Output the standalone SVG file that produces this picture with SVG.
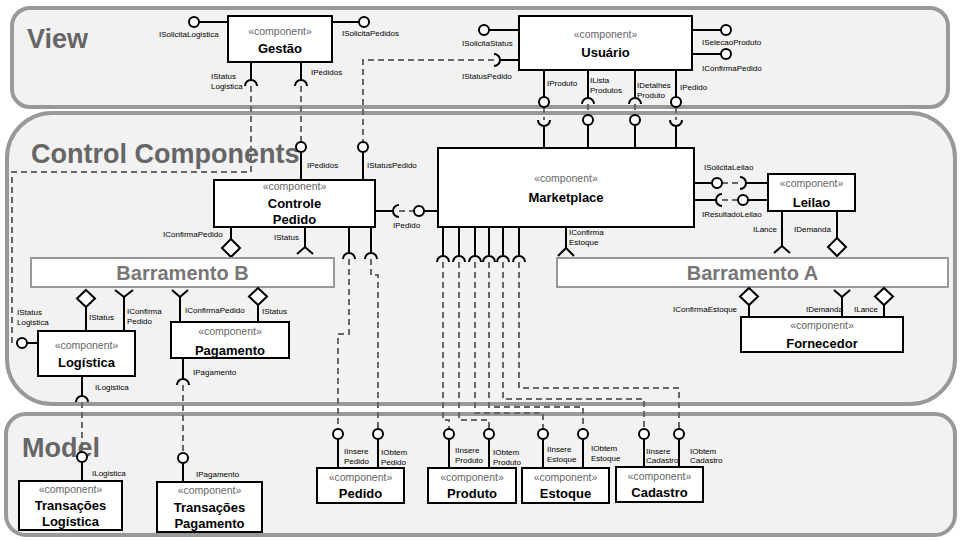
<svg xmlns="http://www.w3.org/2000/svg" width="960" height="540" viewBox="0 0 960 540">
<style>
text{font-family:"Liberation Sans",Arial,sans-serif}
.layer{fill:#f2f2f2;stroke:#999;stroke-width:4}
.title{font-size:27px;font-weight:bold;fill:#666}
.box{fill:#fff;stroke:#000;stroke-width:2}
.st{font-size:10.5px;fill:#666;text-anchor:middle}
.nm{font-size:13px;font-weight:bold;fill:#000;text-anchor:middle}
.lbl{font-size:8px;fill:#000}
.ln{stroke:#000;stroke-width:2;fill:none}
.ball{fill:#fff;stroke:#000;stroke-width:2}
.dia{fill:#fff;stroke:#000;stroke-width:2}
.dash{stroke:#666;stroke-width:2;stroke-dasharray:6 4;fill:none}
.bus{fill:#fff;stroke:#999;stroke-width:2}
.busT{font-size:20px;font-weight:bold;fill:#777;text-anchor:middle}
</style>
<rect width="960" height="540" fill="#fff"/>
<g id="layers">
<rect class="layer" x="12" y="8" width="936" height="99" rx="18"/>
<rect class="layer" x="7" y="113" width="948" height="291" rx="45"/>
<rect class="layer" x="6" y="414" width="949" height="121" rx="20"/>
<text class="title" x="27" y="48">View</text>
<text class="title" x="31" y="163">Control Components</text>
<text class="title" x="22" y="457">Model</text>
</g>
<g id="connectors">
<path class="dash" d="M251 86V172H12V343H17"/>
<path class="dash" d="M301 86V142"/>
<path class="dash" d="M494 60H363V142"/>
<path class="dash" d="M544 107V120"/>
<path class="dash" d="M588 104V115"/>
<path class="dash" d="M635 104V115"/>
<path class="dash" d="M676 107V120"/>
<path class="dash" d="M399 211H414"/>
<path class="dash" d="M722 183H740"/>
<path class="dash" d="M722 200H738"/>
<path class="dash" d="M349 259V334H338V429"/>
<path class="dash" d="M371 259V275H378V429"/>
<path class="dash" d="M443 262V420H449V429"/>
<path class="dash" d="M459 262V420H489V429"/>
<path class="dash" d="M475 262V413H543V429"/>
<path class="dash" d="M489 262V407H583V429"/>
<path class="dash" d="M503 262V399H644V429"/>
<path class="dash" d="M519 262V388H679V429"/>
<path class="dash" d="M82 402V452"/>
<path class="dash" d="M183 385V453"/>
</g>
<g id="gestao">
<rect class="box" x="228" y="16" width="104" height="46"/>
<text class="st" x="280" y="35">«component»</text>
<text class="nm" x="280" y="53">Gestão</text>
<path class="ln" d="M228 22H199M332 22H359M251 62V80M301 62V80"/>
<circle class="ball" cx="194" cy="22" r="5"/>
<circle class="ball" cx="364" cy="22" r="5"/>
<path class="ln" d="M245 86A6 6 0 0 1 257 86M295 86A6 6 0 0 1 307 86"/>
<text class="lbl" x="159" y="37">ISolicitaLogistica</text>
<text class="lbl" x="342" y="36">ISolicitaPedidos</text>
<text class="lbl" x="211" y="79">IStatus</text>
<text class="lbl" x="211" y="89">Logistica</text>
<text class="lbl" x="311" y="75">IPedidos</text>
</g>
<g id="usuario">
<rect class="box" x="519" y="16" width="173" height="54"/>
<text class="st" x="605.5" y="38">«component»</text>
<text class="nm" x="605.5" y="57">Usuário</text>
<path class="ln" d="M519 30H489M519 60H500M692 30H721M692 54H721M544 70V97M588 70V98M635 70V98M676 70V97"/>
<circle class="ball" cx="484" cy="30" r="5"/>
<circle class="ball" cx="726" cy="30" r="5"/>
<circle class="ball" cx="726" cy="54" r="5"/>
<circle class="ball" cx="544" cy="102" r="5"/>
<circle class="ball" cx="676" cy="102" r="5"/>
<path class="ln" d="M494 54A6 6 0 0 1 494 66M582 104A6 6 0 0 1 594 104M629 104A6 6 0 0 1 641 104"/>
<text class="lbl" x="462" y="46">ISolicitaStatus</text>
<text class="lbl" x="462" y="79">IStatusPedido</text>
<text class="lbl" x="702" y="45">ISelecaoProduto</text>
<text class="lbl" x="702" y="71">IConfirmaPedido</text>
<text class="lbl" x="547" y="86">IProduto</text>
<text class="lbl" x="590" y="83">ILista</text>
<text class="lbl" x="590" y="93">Produtos</text>
<text class="lbl" x="637" y="88">IDetalhes</text>
<text class="lbl" x="637" y="98">Produto</text>
<text class="lbl" x="680" y="90">IPedido</text>
</g>
<g id="marketplace">
<rect class="box" x="438" y="148" width="256" height="79"/>
<text class="st" x="566" y="182">«component»</text>
<text class="nm" x="566" y="202">Marketplace</text>
<path class="ln" d="M544 126V148M588 125V148M635 125V148M676 126V148M424 211H438M694 183H712M694 200H716M566 227V249M443 227V256M459 227V256M475 227V256M489 227V256M503 227V256M519 227V256"/>
<path class="ln" d="M538 120A6 6 0 0 0 550 120M670 120A6 6 0 0 0 682 120M722 194A6 6 0 0 0 722 206M558 256L566 248L574 256"/>
<path class="ln" d="M437 262A6 6 0 0 1 449 262M453 262A6 6 0 0 1 465 262M469 262A6 6 0 0 1 481 262M483 262A6 6 0 0 1 495 262M497 262A6 6 0 0 1 509 262M513 262A6 6 0 0 1 525 262"/>
<circle class="ball" cx="588" cy="120" r="5"/>
<circle class="ball" cx="635" cy="120" r="5"/>
<circle class="ball" cx="419" cy="211" r="5"/>
<circle class="ball" cx="717" cy="183" r="5"/>
<text class="lbl" x="704" y="170">ISolicitaLeilao</text>
<text class="lbl" x="702" y="217">IResultadoLeilao</text>
<text class="lbl" x="569" y="235">IConfirma</text>
<text class="lbl" x="569" y="245">Estoque</text>
</g>
<g id="controle-pedido">
<rect class="box" x="214" y="180" width="161" height="47"/>
<text class="st" x="294.5" y="190">«component»</text>
<text class="nm" x="294.5" y="208">Controle</text>
<text class="nm" x="294.5" y="224">Pedido</text>
<path class="ln" d="M231 227V239M305 227V247M349 227V253M371 227V253M375 211H393M301 152V180M363 152V180"/>
<path class="dia" d="M231 239L240 248L231 257L222 248Z"/>
<path class="ln" d="M297 254L305 247L313 254M343 259A6 6 0 0 1 355 259M365 259A6 6 0 0 1 377 259M399 205A6 6 0 0 0 399 217"/>
<circle class="ball" cx="301" cy="147" r="5"/>
<circle class="ball" cx="363" cy="147" r="5"/>
<text class="lbl" x="163" y="237">IConfirmaPedido</text>
<text class="lbl" x="274" y="240">IStatus</text>
<text class="lbl" x="393" y="228">IPedido</text>
<text class="lbl" x="307" y="168">IPedidos</text>
<text class="lbl" x="367" y="168">IStatusPedido</text>
</g>
<g id="leilao">
<rect class="box" x="768" y="174" width="87" height="37"/>
<text class="st" x="811.5" y="187">«component»</text>
<text class="nm" x="811.5" y="207">Leilao</text>
<path class="ln" d="M746 183H768M748 200H768M782 211V246M837 211V238M740 177A6 6 0 0 1 740 189M774 253L782 246L790 253"/>
<path class="dia" d="M837 238L846 247L837 256L828 247Z"/>
<circle class="ball" cx="743" cy="200" r="5"/>
<text class="lbl" x="753" y="232">ILance</text>
<text class="lbl" x="794" y="232">IDemanda</text>
</g>
<g id="barramento-b">
<rect class="bus" x="31" y="258" width="303" height="29"/>
<text class="busT" x="182.5" y="280">Barramento B</text>
</g>
<g id="barramento-a">
<rect class="bus" x="557" y="258" width="391" height="29"/>
<text class="busT" x="752.5" y="280">Barramento A</text>
</g>
<g id="fornecedor">
<rect class="box" x="741" y="317" width="162" height="35"/>
<text class="st" x="822" y="329">«component»</text>
<text class="nm" x="822" y="348">Fornecedor</text>
<path class="ln" d="M749 305V317M842 297V317M884 305V317M834 290L842 297L850 290"/>
<path class="dia" d="M749 288L758 296.5L749 305L740 296.5Z"/>
<path class="dia" d="M884 288L893 296.5L884 305L875 296.5Z"/>
<text class="lbl" x="673" y="312">IConfirmaEstoque</text>
<text class="lbl" x="806" y="312">IDemanda</text>
<text class="lbl" x="854" y="312">ILance</text>
</g>
<g id="logistica">
<rect class="box" x="38" y="331" width="97" height="45"/>
<text class="st" x="86.5" y="349">«component»</text>
<text class="nm" x="86.5" y="367">Logística</text>
<path class="ln" d="M86 307V331M124 297V331M27 343H38M82 376V396M115 290L124 297L133 290M76 402A6 6 0 0 1 88 402"/>
<path class="dia" d="M86 290L95 298.5L86 307L77 298.5Z"/>
<circle class="ball" cx="22" cy="343" r="5"/>
<text class="lbl" x="89" y="320">IStatus</text>
<text class="lbl" x="127" y="314">IConfirma</text>
<text class="lbl" x="127" y="324">Pedido</text>
<text class="lbl" x="17" y="315">IStatus</text>
<text class="lbl" x="17" y="325">Logistica</text>
<text class="lbl" x="95" y="390">ILogistica</text>
</g>
<g id="pagamento">
<rect class="box" x="171" y="322" width="118" height="36"/>
<text class="st" x="230" y="335">«component»</text>
<text class="nm" x="230" y="355">Pagamento</text>
<path class="ln" d="M180 297V322M258 305V322M183 358V379M172 290L180 297L188 290M177 385A6 6 0 0 1 189 385"/>
<path class="dia" d="M258 288L267 296.5L258 305L249 296.5Z"/>
<text class="lbl" x="185" y="313">IConfirmaPedido</text>
<text class="lbl" x="262" y="314">IStatus</text>
<text class="lbl" x="193" y="375">IPagamento</text>
</g>
<g id="transacoes-logistica">
<rect class="box" x="19" y="481" width="103" height="49"/>
<text class="st" x="70.5" y="493">«component»</text>
<text class="nm" x="70.5" y="510">Transações</text>
<text class="nm" x="70.5" y="526">Logística</text>
<path class="ln" d="M82 462V481"/>
<circle class="ball" cx="82" cy="457" r="5"/>
<text class="lbl" x="92" y="476">ILogistica</text>
</g>
<g id="transacoes-pagamento">
<rect class="box" x="157" y="482" width="105" height="50"/>
<text class="st" x="209.5" y="494">«component»</text>
<text class="nm" x="209.5" y="512">Transações</text>
<text class="nm" x="209.5" y="528">Pagamento</text>
<path class="ln" d="M183 463V482"/>
<circle class="ball" cx="183" cy="458" r="5"/>
<text class="lbl" x="196" y="477">IPagamento</text>
</g>
<g id="pedido">
<rect class="box" x="317" y="468" width="87" height="35"/>
<text class="st" x="360.5" y="481">«component»</text>
<text class="nm" x="360.5" y="498">Pedido</text>
<path class="ln" d="M338 439V468M378 439V468"/>
<circle class="ball" cx="338" cy="434" r="5"/>
<circle class="ball" cx="378" cy="434" r="5"/>
<text class="lbl" x="344" y="454">IInsere</text>
<text class="lbl" x="344" y="464">Pedido</text>
<text class="lbl" x="381" y="455">IObtem</text>
<text class="lbl" x="381" y="465">Pedido</text>
</g>
<g id="produto">
<rect class="box" x="428" y="468" width="88" height="35"/>
<text class="st" x="472" y="481">«component»</text>
<text class="nm" x="472" y="498">Produto</text>
<path class="ln" d="M449 439V468M489 439V468"/>
<circle class="ball" cx="449" cy="434" r="5"/>
<circle class="ball" cx="489" cy="434" r="5"/>
<text class="lbl" x="455" y="453">IInsere</text>
<text class="lbl" x="455" y="463">Produto</text>
<text class="lbl" x="493" y="455">IObtem</text>
<text class="lbl" x="493" y="465">Produto</text>
</g>
<g id="estoque">
<rect class="box" x="522" y="468" width="87" height="35"/>
<text class="st" x="565.5" y="481">«component»</text>
<text class="nm" x="565.5" y="498">Estoque</text>
<path class="ln" d="M543 439V468M583 439V468"/>
<circle class="ball" cx="543" cy="434" r="5"/>
<circle class="ball" cx="583" cy="434" r="5"/>
<text class="lbl" x="547" y="452">IInsere</text>
<text class="lbl" x="547" y="462">Estoque</text>
<text class="lbl" x="591" y="451">IObtem</text>
<text class="lbl" x="591" y="461">Estoque</text>
</g>
<g id="cadastro">
<rect class="box" x="616" y="467" width="87" height="35"/>
<text class="st" x="659.5" y="480">«component»</text>
<text class="nm" x="659.5" y="497">Cadastro</text>
<path class="ln" d="M644 439V467M679 439V467"/>
<circle class="ball" cx="644" cy="434" r="5"/>
<circle class="ball" cx="679" cy="434" r="5"/>
<text class="lbl" x="646" y="454">IInsere</text>
<text class="lbl" x="646" y="463">Cadastro</text>
<text class="lbl" x="690" y="454">IObtem</text>
<text class="lbl" x="690" y="463">Cadastro</text>
</g>
</svg>
